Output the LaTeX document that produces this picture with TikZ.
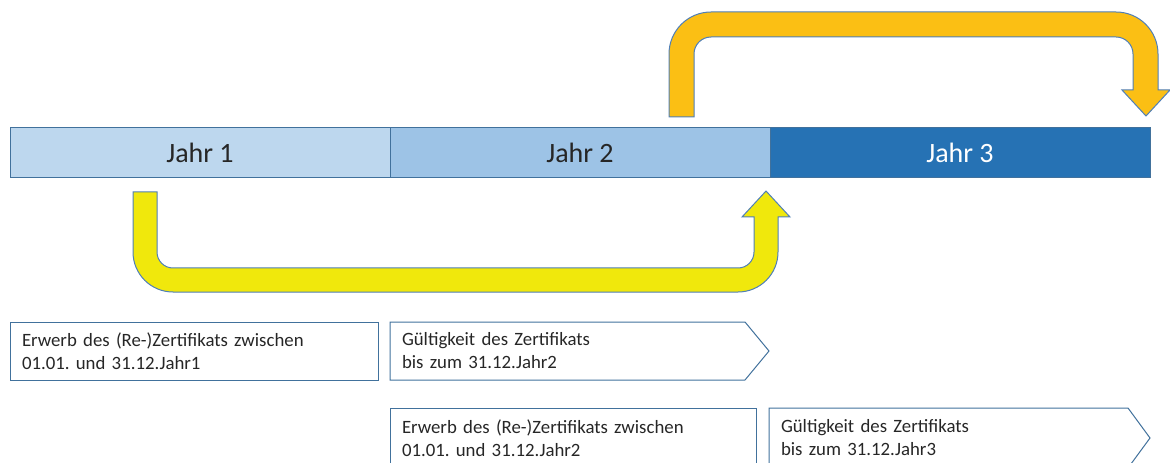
\documentclass[tikz,border=0pt]{standalone}
\usepackage{fontspec}
\setmainfont{Carlito}
\frenchspacing
\usetikzlibrary{positioning,calc}
\definecolor{jahrA}{HTML}{BDD7EE}
\definecolor{jahrB}{HTML}{9DC3E6}
\definecolor{jahrC}{HTML}{2672B4}
\definecolor{rand}{HTML}{41719C}
\definecolor{pfeilrand}{HTML}{4F7FB8}
\definecolor{gelb}{HTML}{F0E80C}
\definecolor{goldgelb}{HTML}{FBBF14}
\definecolor{schrift}{HTML}{262626}
\tikzset{
  jahr/.style={draw=rand, line width=0.75pt, outer sep=0pt, inner sep=0pt,
    minimum width=285pt, minimum height=37.5pt,
    font=\fontsize{21}{25}\selectfont, text=schrift},
  kasten/.style={anchor=north west, outer sep=0pt, inner xsep=9pt, inner ysep=0pt,
    align=left, font=\fontsize{14.1}{17.25}\selectfont, text=schrift},
  rahmen/.style={draw=rand, line width=0.75pt},
  pfeilgelb/.style={draw=pfeilrand, line width=0.75pt, fill=gelb},
  pfeilorange/.style={draw=pfeilrand, line width=0.75pt, fill=goldgelb},
}
\begin{document}
\begin{tikzpicture}[x=0.75pt,y=0.75pt]
\useasboundingbox (0,0) rectangle (1170,-463);
\clip (0,0) rectangle (1170,-463);
% Zeitleiste
\node[jahr, fill=jahrA, anchor=north west] (jahr1) at (10,-128) {Jahr 1};
\node[jahr, fill=jahrB, right=0pt of jahr1] (jahr2) {Jahr 2};
\node[jahr, fill=jahrC, text=white, right=0pt of jahr2] (jahr3) {Jahr 3};
% Pfeil Jahr 1 -> Jahr 2
\draw[pfeilgelb] (133,-192) -- (133,-252) arc[start angle=180, end angle=270, radius=40]
  -- (738,-292) arc[start angle=270, end angle=360, radius=40]
  -- (778,-217) -- (790,-217) -- (766,-191) -- (742,-217) -- (754,-217)
  -- (754,-252) arc[start angle=0, end angle=-90, radius=16]
  -- (173,-268) arc[start angle=270, end angle=180, radius=16]
  -- (157,-192) -- cycle;
% Pfeil Jahr 2 -> Jahr 3
\draw[pfeilorange] (669,-117) -- (669,-54) arc[start angle=180, end angle=90, radius=42]
  -- (1116,-12) arc[start angle=90, end angle=0, radius=42]
  -- (1158,-90) -- (1170,-90) -- (1146,-116) -- (1122,-90) -- (1133,-90)
  -- (1133,-54) arc[start angle=0, end angle=90, radius=17]
  -- (711,-37) arc[start angle=90, end angle=180, radius=17]
  -- (694,-117) -- cycle;
% Kaesten
\node[kasten, rahmen, text width=258pt, minimum height=43.5pt] (erwerb1) at (10,-322)
  {Erwerb des (Re-)Zertifikats zwischen\\01.01. und 31.12.Jahr1};
\node[kasten, text width=248.25pt, minimum height=43.5pt] (gueltig2) at (390,-322)
  {Gültigkeit des Zertifikats\\bis zum 31.12.Jahr2};
\draw[rahmen] (gueltig2.north west) -- (gueltig2.north east) -- ($(gueltig2.east)+(24,0)$)
  -- (gueltig2.south east) -- (gueltig2.south west) -- cycle;
\node[kasten, rahmen, text width=256.5pt, minimum height=45pt] (erwerb2) at (390,-408)
  {Erwerb des (Re-)Zertifikats zwischen\\01.01. und 31.12.Jahr2};
\node[kasten, text width=251.25pt, minimum height=45pt] (gueltig3) at (769,-408)
  {Gültigkeit des Zertifikats\\bis zum 31.12.Jahr3};
\draw[rahmen] (gueltig3.north west) -- (gueltig3.north east) -- ($(gueltig3.east)+(22,0)$)
  -- (gueltig3.south east) -- (gueltig3.south west) -- cycle;
\end{tikzpicture}
\end{document}
